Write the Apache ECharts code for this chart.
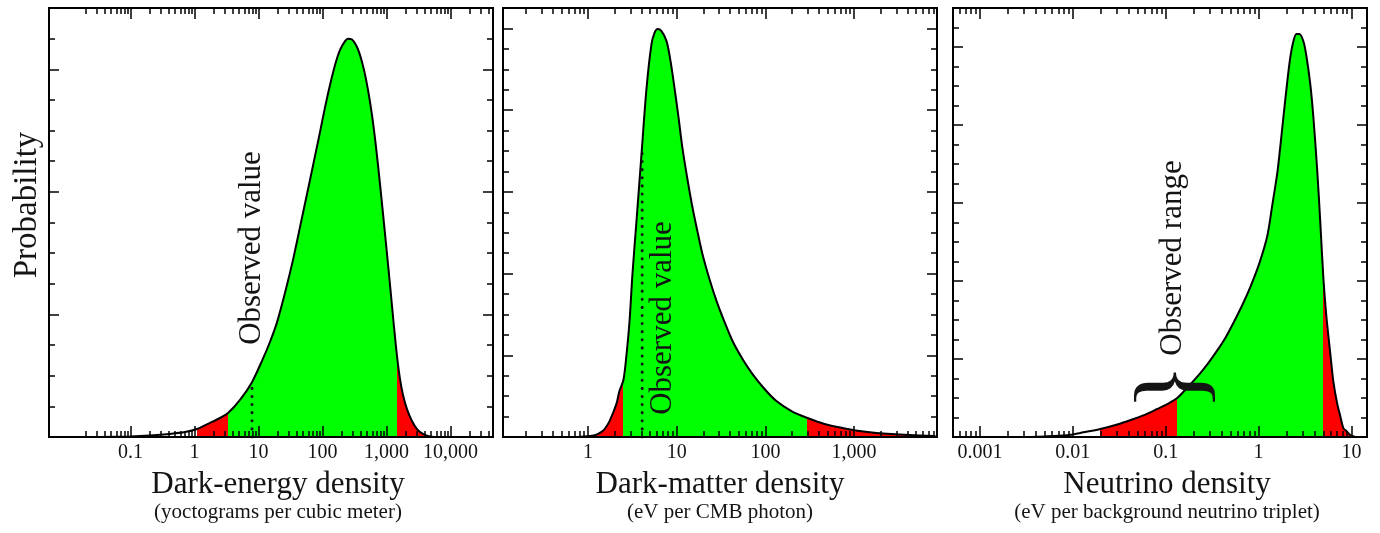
<!DOCTYPE html>
<html>
<head>
<meta charset="utf-8">
<script src="https://cdn.jsdelivr.net/npm/echarts@6/dist/echarts.min.js"></script>
<style>
  html, body { margin: 0; padding: 0; background: #fff; }
  #chart { width: 1380px; height: 533px; }
</style>
</head>
<body>
<div id="chart"></div>
<script>
// ---- Dark-energy density (yoctograms per cubic meter) ----
const deDensity = [0.0334, 0.0982, 0.202, 0.414, 0.711, 1.094, 1.746, 2.50, 3.34, 5.14, 7.91, 11.7, 15.1, 19.5, 25.9, 34.6, 44.5, 57.3, 73.6, 91.4, 109, 131, 157, 188, 225, 250, 289, 334, 385, 445, 514, 593, 685, 791, 948, 1135, 1310, 1459, 1626, 1811, 2089, 2500, 2999, 3715, 4786, 6855];
const deProb    = [0, 0.02, 0.05, 0.10, 0.16, 0.26, 0.46, 0.62, 0.78, 1.21, 1.79, 2.55, 3.10, 3.75, 4.70, 5.78, 6.85, 7.93, 9.01, 9.95, 10.74, 11.49, 12.14, 12.63, 12.92, 13.0, 12.97, 12.79, 12.47, 11.98, 11.33, 10.51, 9.47, 8.26, 6.63, 4.96, 3.59, 2.64, 1.89, 1.37, 0.91, 0.52, 0.26, 0.10, 0.02, 0];
const deBands   = [1.094, 3.34, 1459];          // red from, green from, red again from
const deObserved = [7.91, 1.79];                 // value, height of dotted marker
const deTickValues = [0.1, 1, 10, 100, 1000, 10000];
const deTickLabels = ['0.1', '1', '10', '100', '1,000', '10,000'];

// ---- Dark-matter density (eV per CMB photon) ----
const dmDensity = [0.477, 0.704, 1.04, 1.22, 1.46, 1.57, 1.75, 2.09, 2.26, 2.51, 2.72, 2.94, 3.17, 3.52, 4.01, 4.57, 5.20, 5.62, 6.08, 6.74, 7.68, 8.52, 9.45, 10.5, 11.6, 13.2, 15.1, 17.2, 19.5, 23.4, 28.1, 34.6, 42.6, 55.2, 71.6, 97.8, 133, 197, 298, 464, 740, 1150, 1786, 4217, 8279];
const dmProb    = [0, 0, 0.05, 0.10, 0.29, 0.44, 0.78, 1.62, 2.25, 2.80, 4.06, 5.68, 7.98, 10.57, 13.85, 17.08, 19.24, 19.78, 19.97, 19.87, 19.38, 18.40, 17.08, 15.62, 14.15, 12.63, 11.21, 10.03, 8.96, 7.73, 6.66, 5.63, 4.70, 3.82, 3.08, 2.35, 1.76, 1.27, 0.93, 0.64, 0.44, 0.29, 0.20, 0.10, 0.05];
const dmBands   = [1.04, 2.51, 298];
const dmObserved = [4.08, 14.2];
const dmTickValues = [1, 10, 100, 1000];
const dmTickLabels = ['1', '10', '100', '1,000'];

// ---- Neutrino density (eV per background neutrino triplet) ----
const nuDensity = [0.00166, 0.00272, 0.00506, 0.00867, 0.0121, 0.0198, 0.0301, 0.0448, 0.0603, 0.0812, 0.104, 0.133, 0.175, 0.236, 0.287, 0.359, 0.438, 0.535, 0.668, 0.814, 1.02, 1.24, 1.40, 1.59, 1.71, 1.85, 2.04, 2.19, 2.36, 2.55, 2.74, 3.03, 3.27, 3.60, 3.88, 4.28, 4.62, 4.98, 5.36, 5.92, 6.37, 7.03, 7.57, 8.17, 8.79, 9.70, 11.0];
const nuProb    = [0, 0, 0.03, 0.09, 0.21, 0.41, 0.64, 0.92, 1.15, 1.44, 1.69, 2.0, 2.59, 3.28, 3.79, 4.44, 5.08, 5.85, 6.77, 7.69, 8.92, 10.31, 11.85, 13.54, 14.87, 16.41, 18.26, 19.44, 20.26, 20.67, 20.67, 20.31, 19.54, 18.10, 16.46, 13.64, 10.97, 8.15, 6.21, 4.26, 2.87, 1.69, 1.08, 0.46, 0.31, 0.10, 0];
const nuBands   = [0.0198, 0.133, 4.98];
const nuObservedRange = [0.042, 0.30];
const nuTickValues = [0.001, 0.01, 0.1, 1, 10];
const nuTickLabels = ['0.001', '0.01', '0.1', '1', '10'];

const FONT = '"Liberation Serif", "Times New Roman", "DejaVu Serif", serif';
const INK = '#141414';
const RED = '#ff0000';
const GREEN = '#00ff00';

const panels = [
  { x: deDensity, p: deProb, bands: deBands, range: [0.00533, 46130], yMax: 14, tickSpan: [0.02, 40000],
    labelValues: deTickValues, labelTexts: deTickLabels,
    title: 'Dark-energy density', sub: '(yoctograms per cubic meter)', shift: 14,
    grid: { left: 49, top: 8, width: 444, height: 429 } },
  { x: dmDensity, p: dmProb, bands: dmBands, range: [0.110, 8610], yMax: 21, tickSpan: [0.2, 9000],
    labelValues: dmTickValues, labelTexts: dmTickLabels,
    title: 'Dark-matter density', sub: '(eV per CMB photon)', shift: 0,
    grid: { left: 503, top: 8, width: 434, height: 429 } },
  { x: nuDensity, p: nuProb, bands: nuBands, range: [0.000513, 14.69], yMax: 22, tickSpan: [0.0005, 14],
    labelValues: nuTickValues, labelTexts: nuTickLabels,
    title: 'Neutrino density', sub: '(eV per background neutrino triplet)', shift: 14,
    grid: { left: 953, top: 8, width: 414, height: 429 } }
];

function logTicks(lo, hi) {
  const major = [], minor = [];
  for (let e = -5; e <= 5; e++) {
    for (let k = 1; k < 10; k++) {
      const v = +(k * Math.pow(10, e)).toPrecision(6);
      if (v < lo || v > hi) continue;
      (k === 1 ? major : minor).push(v);
    }
  }
  return { major, minor };
}

function linTicks(max) {
  const major = [], minor = [];
  for (let v = 1; v < max; v++) (v % 4 === 0 ? major : minor).push(v);
  return { major, minor };
}

const borderLine = { show: true, onZero: false, lineStyle: { color: '#000', width: 2 } };

const grids = [], xAxes = [], yAxes = [], series = [], visualMaps = [];

panels.forEach((pn, g) => {
  grids.push(Object.assign({ show: false, containLabel: false, outerBoundsMode: 'none' }, pn.grid));

  const xt = logTicks(pn.tickSpan[0], pn.tickSpan[1]);
  const yt = linTicks(pn.yMax);
  const xBase = { gridIndex: g, type: 'log', logBase: 10, min: pn.range[0], max: pn.range[1],
                  splitLine: { show: false }, z: 10, axisLine: borderLine, axisLabel: { show: false } };
  const yBase = { gridIndex: g, type: 'value', min: 0, max: pn.yMax,
                  splitLine: { show: false }, z: 10, axisLine: borderLine, axisLabel: { show: false } };
  const tick = (len, vals) => ({ show: true, inside: true, length: len, customValues: vals,
                                 lineStyle: { color: '#000', width: 1.5 } });

  const findLabel = (v) => {
    for (let i = 0; i < pn.labelValues.length; i++) {
      if (Math.abs(Math.log10(v) - Math.log10(pn.labelValues[i])) < 1e-6) return pn.labelTexts[i];
    }
    return '';
  };

  xAxes.push(Object.assign({}, xBase, {
    position: 'bottom', axisTick: tick(11, xt.major),
    axisLabel: { show: true, customValues: pn.labelValues, formatter: findLabel,
                 color: INK, fontFamily: FONT, fontSize: 20, margin: 6 },
    name: '{t|' + pn.title + '}\n{s|' + pn.sub + '}',
    nameLocation: 'middle', nameGap: 32,
    nameTextStyle: {
      padding: [0, 0, 0, pn.shift],
      rich: {
        t: { fontFamily: FONT, fontSize: 31, color: INK, lineHeight: 32 },
        s: { fontFamily: FONT, fontSize: 21, color: INK, lineHeight: 22 }
      }
    }
  }));
  xAxes.push(Object.assign({}, xBase, { position: 'bottom', axisTick: tick(6, xt.minor) }));
  xAxes.push(Object.assign({}, xBase, { position: 'top', axisTick: tick(11, xt.major) }));
  xAxes.push(Object.assign({}, xBase, { position: 'top', axisTick: tick(6, xt.minor) }));

  yAxes.push(Object.assign({}, yBase, { position: 'left', axisTick: tick(10, yt.major) }));
  yAxes.push(Object.assign({}, yBase, { position: 'left', axisTick: tick(6, yt.minor) }));
  yAxes.push(Object.assign({}, yBase, { position: 'right', axisTick: tick(10, yt.major) }));
  yAxes.push(Object.assign({}, yBase, { position: 'right', axisTick: tick(6, yt.minor) }));

  // probability curve: black outline, area coloured by band
  series.push({
    type: 'line', xAxisIndex: g * 4, yAxisIndex: g * 4,
    data: pn.x.map((v, i) => [v, pn.p[i]]),
    smooth: 0.3, showSymbol: false, symbol: 'none',
    lineStyle: { color: '#000', width: 2 },
    areaStyle: { opacity: 1 },
    z: 2, silent: true, animation: false
  });

  visualMaps.push({
    type: 'piecewise', show: false, seriesIndex: g, dimension: 0,
    pieces: [
      { lt: pn.bands[0], color: 'rgba(255,255,255,0)' },
      { gte: pn.bands[0], lt: pn.bands[1], color: RED },
      { gte: pn.bands[1], lt: pn.bands[2], color: GREEN },
      { gte: pn.bands[2], color: RED }
    ]
  });
});

// dotted "observed value" markers
[[0, deObserved], [1, dmObserved]].forEach(([g, obs]) => {
  series.push({
    type: 'line', xAxisIndex: g * 4, yAxisIndex: g * 4,
    data: [[obs[0], 0], [obs[0], obs[1]]],
    showSymbol: false, symbol: 'none',
    lineStyle: { color: INK, width: 3, type: [0.1, 8], cap: 'round' },
    z: 3, silent: true, animation: false
  });
});

const chart = echarts.init(document.getElementById('chart'), null, { renderer: 'canvas' });
chart.setOption({
  backgroundColor: '#fff',
  animation: false,
  grid: grids,
  xAxis: xAxes,
  yAxis: yAxes,
  visualMap: visualMaps,
  series: series
});

// annotations anchored to the data
const px = (g, pt) => chart.convertToPixel({ xAxisIndex: g * 4, yAxisIndex: g * 4 }, pt);
const deObsPx = px(0, [deObserved[0], 0]);
const dmObsPx = px(1, [dmObserved[0], 0]);
const braceMid = Math.sqrt(nuObservedRange[0] * nuObservedRange[1]);
const bracePx = px(2, [braceMid, 0]);

const textStyle = (txt, size) => ({ text: txt, fontFamily: FONT, fontSize: size, fill: INK,
                                    textAlign: 'center', textVerticalAlign: 'middle' });

chart.setOption({
  graphic: [
    { type: 'text', x: 27, y: 205, rotation: Math.PI / 2, style: textStyle('Probability', 33), z: 20 },
    { type: 'text', x: deObsPx[0], y: 248, rotation: Math.PI / 2, style: textStyle('Observed value', 31), z: 20 },
    { type: 'text', x: dmObsPx[0] + 21, y: 318, rotation: Math.PI / 2, style: textStyle('Observed value', 31), z: 20 },
    { type: 'text', x: bracePx[0] + 2, y: 258, rotation: Math.PI / 2, style: textStyle('Observed range', 31), z: 20 },
    { type: 'text', x: bracePx[0] + 2, y: 387, rotation: -Math.PI / 2, style: textStyle('{', 98), z: 20 }
  ]
});
</script>
</body>
</html>
